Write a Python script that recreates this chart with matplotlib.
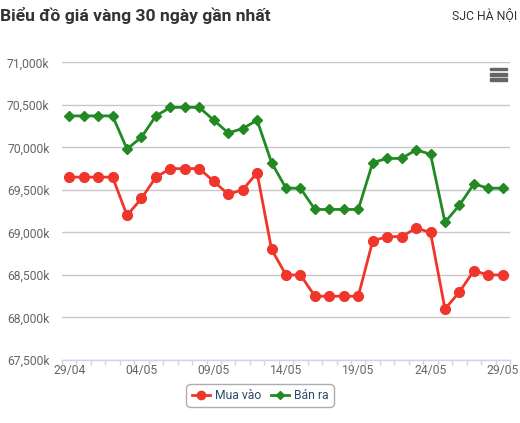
import matplotlib
matplotlib.use("Agg")
import matplotlib.pyplot as plt
from matplotlib.lines import Line2D
from matplotlib.patches import Rectangle
import numpy as np

plt.rcParams['font.family'] = ['Roboto', 'DejaVu Sans']

dates = ["29/04", "30/04", "01/05", "02/05", "03/05", "04/05", "05/05", "06/05", "07/05", "08/05",
         "09/05", "10/05", "11/05", "12/05", "13/05", "14/05", "15/05", "16/05", "17/05", "18/05",
         "19/05", "20/05", "21/05", "22/05", "23/05", "24/05", "25/05", "26/05", "27/05", "28/05", "29/05"]
mua_vao = [69650, 69650, 69650, 69650, 69200, 69400, 69650, 69750, 69750, 69750,
           69600, 69450, 69500, 69700, 68800, 68500, 68500, 68250, 68250, 68250,
           68250, 68900, 68950, 68950, 69050, 69000, 68100, 68300, 68550, 68500, 68500]
ban_ra = [70370, 70370, 70370, 70370, 69980, 70120, 70370, 70470, 70470, 70470,
          70320, 70170, 70220, 70320, 69820, 69520, 69520, 69270, 69270, 69270,
          69270, 69820, 69870, 69870, 69970, 69920, 69120, 69320, 69570, 69520, 69520]
y_ticks = [67500, 68000, 68500, 69000, 69500, 70000, 70500, 71000]

RED = "#f0352b"
GREEN = "#238a23"

W, H = 520, 423
fig = plt.figure(figsize=(W / 100, H / 100), dpi=100)
ax = fig.add_axes([62 / W, 1 - 360 / H, (510 - 62) / W, (360 - 62.3) / H])

x = np.arange(len(dates))
ax.plot(x, mua_vao, color=RED, lw=2, marker='o', ms=7, mec=RED, mfc=RED, zorder=3)
ax.plot(x, ban_ra, color=GREEN, lw=2, marker='D', ms=5, mec=GREEN, mfc=GREEN, zorder=3)

ax.set_xlim(-0.5, len(dates) - 0.5)
ax.set_ylim(y_ticks[0], y_ticks[-1])
ax.set_yticks(y_ticks)
ax.set_yticklabels([f"{v:,}k" for v in y_ticks])
ax.yaxis.grid(True, color="#c8c8c8", lw=1)
ax.set_axisbelow(True)
ax.tick_params(axis='y', length=0, pad=9, labelsize=8.7, labelcolor="#666666")

label_idx = list(range(0, len(dates), 5))
ax.set_xticks(label_idx)
ax.set_xticklabels([dates[i] for i in label_idx])
ax.set_xticks(np.arange(-0.5, len(dates)), minor=True)
ax.tick_params(axis='x', which='major', length=0, pad=3, labelsize=8.7, labelcolor="#666666")
ax.tick_params(axis='x', which='minor', length=3.5, width=1, color="#ccd6eb", direction='out')

for s in ['top', 'right', 'left']:
    ax.spines[s].set_visible(False)
ax.spines['bottom'].set_color("#ccd6eb")
ax.spines['bottom'].set_linewidth(1)

fig.text(0 / W, 1 - 21 / H, "Biểu đồ giá vàng 30 ngày gần nhất", fontsize=12.6,
         fontweight='bold', color="#333333", ha='left', va='baseline')
fig.text(517 / W, 1 - 19 / H, "SJC HÀ NỘI", fontsize=8.8, color="#333333",
         ha='right', va='baseline')

# menu icon
for yy in [69, 74.3, 79.3]:
    fig.patches.append(Rectangle((490 / W, 1 - (yy + 1.3) / H), 17 / W, 2.6 / H,
                                 transform=fig.transFigure, color="#666666"))

handles = [Line2D([0], [0], color=RED, lw=2, marker='o', ms=6),
           Line2D([0], [0], color=GREEN, lw=2, marker='D', ms=4)]
leg = fig.legend(handles, ["Mua vào", "Bán ra"], loc='center', ncol=2,
                 bbox_to_anchor=(260 / W, 1 - 395.5 / H), fontsize=8.7, frameon=True,
                 fancybox=True, handlelength=1.5, handletextpad=0.4, columnspacing=0.8,
                 borderpad=0.45, labelcolor="#2e4a6b")
leg.get_frame().set_edgecolor("#999999")
leg.get_frame().set_linewidth(1)
leg.get_frame().set_boxstyle("round,pad=0,rounding_size=0.4")

fig.savefig("out.png", dpi=100)
